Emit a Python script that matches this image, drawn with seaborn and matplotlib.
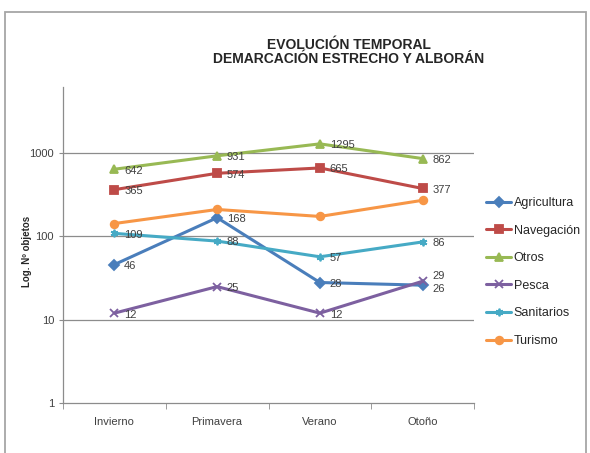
import numpy as np
import pandas as pd
import seaborn as sns
import matplotlib
matplotlib.use("Agg")
import matplotlib.pyplot as plt
from matplotlib.patches import Rectangle
from matplotlib.ticker import FixedLocator, NullFormatter

# datos
estaciones = ["Invierno", "Primavera", "Verano", "Otoño"]
agricultura = [46, 168, 28, 26]
navegacion = [365, 574, 665, 377]
otros = [642, 931, 1295, 862]
pesca = [12, 25, 12, 29]
sanitarios = [109, 88, 57, 86]
turismo = [143, 211, 174, 272]

series = {
    "Agricultura": agricultura,
    "Navegación": navegacion,
    "Otros": otros,
    "Pesca": pesca,
    "Sanitarios": sanitarios,
    "Turismo": turismo,
}
# turismo no tiene etiquetas en el original
con_etiqueta = ["Agricultura", "Navegación", "Otros", "Pesca", "Sanitarios"]

colores = {
    "Agricultura": "#4A7EBB",
    "Navegación": "#BE4B48",
    "Otros": "#98B954",
    "Pesca": "#7D60A0",
    "Sanitarios": "#46AAC5",
    "Turismo": "#F79646",
}
marcadores = {
    "Agricultura": "D",
    "Navegación": "s",
    "Otros": "^",
    "Pesca": "x",
    "Sanitarios": (6, 2, 0),
    "Turismo": "o",
}

rows = []
for nombre, vals in series.items():
    for i, v in enumerate(vals):
        rows.append({"pos": i + 0.5, "estacion": estaciones[i], "serie": nombre, "valor": v})
df = pd.DataFrame(rows)

sns.set_style("white")
plt.rcParams["font.family"] = ["Liberation Sans", "DejaVu Sans"]

fig = plt.figure(figsize=(5.9, 4.53), dpi=100)
ax = fig.add_axes([63 / 590, 1 - 403 / 453, (474 - 63) / 590, (403 - 87) / 453])

for nombre in series:
    sub = df[df["serie"] == nombre]
    sns.lineplot(data=sub, x="pos", y="valor", color=colores[nombre],
                 marker=marcadores[nombre], label=nombre,
                 linewidth=2.2, markersize=5.5, markeredgewidth=1.3,
                 markeredgecolor=colores[nombre], ax=ax)

for nombre in con_etiqueta:
    sub = df[df["serie"] == nombre]
    for _, r in sub.iterrows():
        dy = -1
        # 29 y 26 casi se solapan en Otoño
        if nombre == "Pesca" and r["estacion"] == "Otoño":
            dy = 4
        if nombre == "Agricultura" and r["estacion"] == "Otoño":
            dy = -3
        ax.annotate(str(r["valor"]), (r["pos"], r["valor"]), xytext=(7, dy),
                    textcoords="offset points", va="center", ha="left",
                    fontsize=8, color="#404040")

ax.set_yscale("log")
ax.set_ylim(1, 10 ** (3 + 66 / 83))
ax.set_xlim(0, 4)
ax.yaxis.set_major_locator(FixedLocator([1, 10, 100, 1000]))
ax.yaxis.set_minor_locator(FixedLocator([]))
ax.set_yticklabels(["1", "10", "100", "1000"])
for y in [10, 100, 1000]:
    ax.axhline(y, color="#8C8C8C", linewidth=0.9, zorder=0)

ax.set_xticks([0.5, 1.5, 2.5, 3.5])
ax.set_xticklabels(estaciones)
ax.xaxis.set_minor_locator(FixedLocator([0, 1, 2, 3, 4]))
ax.xaxis.set_minor_formatter(NullFormatter())
ax.tick_params(axis="x", which="major", length=0, pad=10, labelsize=8, labelcolor="#404040")
ax.tick_params(axis="x", which="minor", bottom=True, length=4, color="#8C8C8C", direction="out")
ax.tick_params(axis="y", which="major", left=True, length=3, color="#8C8C8C", direction="out",
               labelsize=8, labelcolor="#404040", pad=3.5)

for s in ["top", "right"]:
    ax.spines[s].set_visible(False)
for s in ["left", "bottom"]:
    ax.spines[s].set_color("#8C8C8C")
    ax.spines[s].set_linewidth(0.9)

ax.set_xlabel("")
ax.set_ylabel("")
fig.text(27 / 590, 1 - 251 / 453, "Log. Nº objetos", rotation=90, fontsize=7,
         fontweight="bold", ha="center", va="center")

fig.text(349 / 590, 1 - 52 / 453, "EVOLUCIÓN TEMPORAL\nDEMARCACIÓN ESTRECHO Y ALBORÁN",
         ha="center", va="center", fontsize=10, fontweight="bold", linespacing=1.05)

handles, labels = ax.get_legend_handles_labels()
ax.legend(handles, labels, loc="center left", bbox_to_anchor=(480 / 590, 1 - 272 / 453),
          bbox_transform=fig.transFigure, frameon=False, fontsize=9,
          labelspacing=1.25, handlelength=2.0, handletextpad=0.2, borderpad=0,
          labelcolor="#262626")

fig.patches.append(Rectangle((5 / 590, -0.05), (586 - 5) / 590, 1.05 - 12 / 453,
                             transform=fig.transFigure, fill=False,
                             edgecolor="#A6A6A6", linewidth=1.3, figure=fig))

fig.savefig("out.png", dpi=100)
